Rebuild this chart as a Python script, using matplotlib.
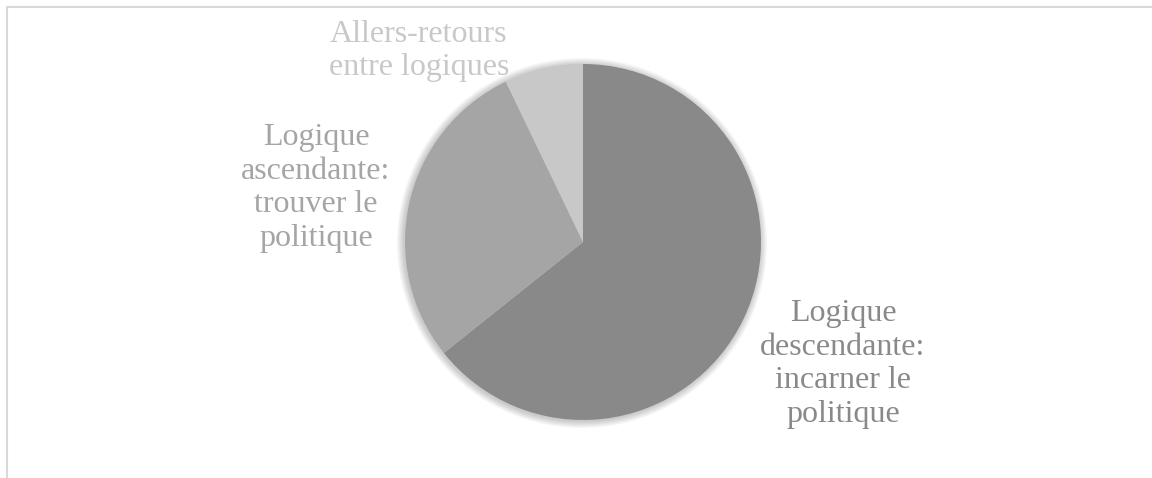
import matplotlib.pyplot as plt
from matplotlib.patches import Rectangle, Circle

labels = ["Logique\ndescendante:\nincarner le\npolitique",
          "Logique\nascendante:\ntrouver le\npolitique",
          "Allers-retours\nentre logiques"]
values = [9, 4, 1]
colors = ["#898989", "#a5a5a5", "#c8c8c8"]
# label centres in pixels (x from left, y from top)
label_pos = [(843, 364), (316, 188), (419, 51)]

W, H = 1152, 478
fig = plt.figure(figsize=(W / 100, H / 100), dpi=100)
ax = fig.add_axes([0, 0, 1, 1])

cx, cy, r = 583, H - 242, 178

# soft shadow around the pie
for k in range(6):
    ax.add_patch(Circle((cx - 1, cy - 1), r + 1 + k * 1.2, color="black",
                        alpha=0.035, lw=0, zorder=1))

wedges, _ = ax.pie(values, colors=colors, startangle=90, counterclock=False,
                   center=(cx, cy), radius=r, frame=True,
                   wedgeprops=dict(linewidth=0, zorder=2))
ax.set_xlim(0, W)
ax.set_ylim(0, H)
ax.axis("off")

for text, (px, py), c in zip(labels, label_pos, colors):
    ax.text(px, H - py, text, ha="center", va="center", color=c,
            fontsize=23, family="Liberation Serif", linespacing=1.22)

# chart frame (only top and left edges visible)
ax.add_patch(Rectangle((7, -20), 2000, H - 7 + 20, fill=False,
                       edgecolor="#d9d9d9", linewidth=1.5, zorder=0))

fig.savefig("out.png", dpi=100)
